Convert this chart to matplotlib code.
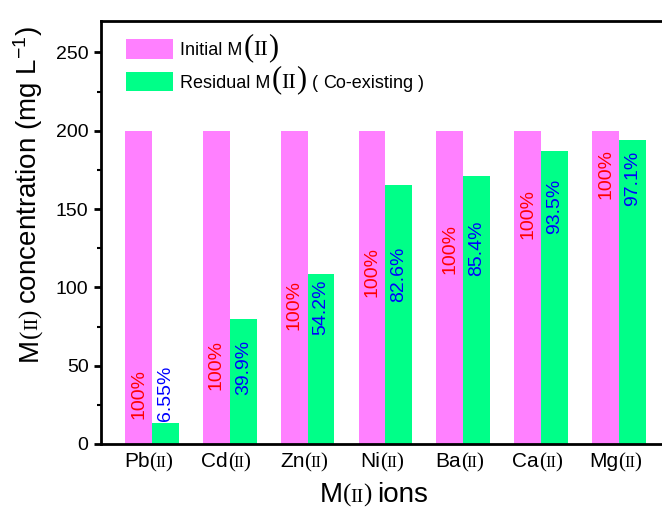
import matplotlib
matplotlib.use("Agg")
import matplotlib.pyplot as plt
from matplotlib.ticker import MultipleLocator
from matplotlib.transforms import IdentityTransform
import numpy as np

ions = ["Pb", "Cd", "Zn", "Ni", "Ba", "Ca", "Mg"]
initial = [200, 200, 200, 200, 200, 200, 200]
residual = [13.1, 79.8, 108.4, 165.2, 170.8, 187.0, 194.2]
initial_pct = ["100%"] * 7
residual_pct = ["6.55%", "39.9%", "54.2%", "82.6%", "85.4%", "93.5%", "97.1%"]
# top of the rotated percentage labels (data units)
red_top = [48, 66.5, 105, 126, 140.5, 162.5, 188]
blue_top = [50, 66.5, 105, 126, 142.5, 169, 187]

pink = "#FF80FF"
green = "#00FF88"
SANS = "Liberation Sans"
SERIF = "Liberation Serif"

plt.rcParams["font.family"] = SANS
plt.rcParams["mathtext.default"] = "regular"

fig = plt.figure(figsize=(6.62, 5.07), dpi=100)
ax = fig.add_axes([101 / 662, 63 / 507, 561 / 662, 423 / 507])

x = np.arange(len(ions))
w = 0.345
ax.bar(x - w / 2, initial, w, color=pink, label="Initial M")
ax.bar(x + w / 2, residual, w, color=green, label="Residual M")

for i in range(len(ions)):
    ax.text(x[i] - w / 2, red_top[i], initial_pct[i], rotation=90, ha="center",
            va="top", color="#FF0000", fontsize=14)
    ax.text(x[i] + w / 2, blue_top[i], residual_pct[i], rotation=90, ha="center",
            va="top", color="#0000FF", fontsize=14)

ax.set_xlim(-0.655, 6.553)
ax.set_ylim(0, 270)
ax.set_yticks(np.arange(0, 251, 50))
ax.yaxis.set_minor_locator(MultipleLocator(25))
ax.set_xticks(x, [""] * len(ions))
ax.tick_params(axis="x", length=0)
ax.tick_params(axis="y", which="major", direction="out", length=5, width=2,
               labelsize=14, pad=4)
ax.tick_params(axis="y", which="minor", direction="out", length=3, width=1.5)
for s in ["left", "bottom", "top"]:
    ax.spines[s].set_linewidth(2)
ax.spines["right"].set_visible(False)

leg = ax.legend(loc="upper left", bbox_to_anchor=(0.0446, 0.957), frameon=False,
                fontsize=13, handlelength=2.6, handleheight=1.3, handletextpad=0.4,
                labelspacing=0.7, borderpad=0, borderaxespad=0)

fig.canvas.draw()
r = fig.canvas.get_renderer()


def rich(pieces, x0, y0, rotation=0, ha="left"):
    # pieces: (text, size, family, gap in px before it), laid out along the baseline
    made = []
    for s, size, fam, gap in pieces:
        t = fig.text(0, 0, s, fontsize=size, family=fam, rotation=rotation,
                     rotation_mode="anchor", ha="left", va="baseline",
                     transform=IdentityTransform())
        ext = t.get_window_extent(r)
        made.append((t, gap, ext.height if rotation else ext.width))
    total = sum(g + L for _, g, L in made)
    pos = -total / 2 if ha == "center" else 0
    for t, g, L in made:
        pos += g
        if rotation:
            t.set_position((x0, y0 + pos))
        else:
            t.set_position((x0 + pos, y0))
        pos += L


def roman(p, n, gap=0):
    return [("(", p, SERIF, gap), ("II", n, SERIF, -1), (")", p, SERIF, -1)]


# tick labels
for i, name in enumerate(ions):
    px = ax.transData.transform((x[i], 0))[0]
    rich([(name, 15, SANS, 0)] + roman(15, 12), px - 4, 40, ha="center")

# axis labels
rich([("M", 20, SANS, 0)] + roman(18, 14) + [("ions", 20, SANS, 6)],
     374, 5, ha="center")
rich([("M", 20, SANS, 0)] + roman(18, 14)
     + [("concentration (mg L$^{-1}$)", 20, SANS, 6)],
     37, 314, rotation=90, ha="center")

# legend labels: append the Roman numeral part
extra = [[], [("(", 13, SANS, 5), ("Co-existing", 13, SANS, 5), (")", 13, SANS, 5)]]
for t, more in zip(leg.get_texts(), extra):
    ext = t.get_window_extent(r)
    bx, by = t.get_transform().transform((0, 0))
    rich([("(", 22, SERIF, 1), ("II", 16, SERIF, 0), (")", 22, SERIF, 0)] + more,
         ext.x1, by)

fig.savefig("out.png", dpi=100)
